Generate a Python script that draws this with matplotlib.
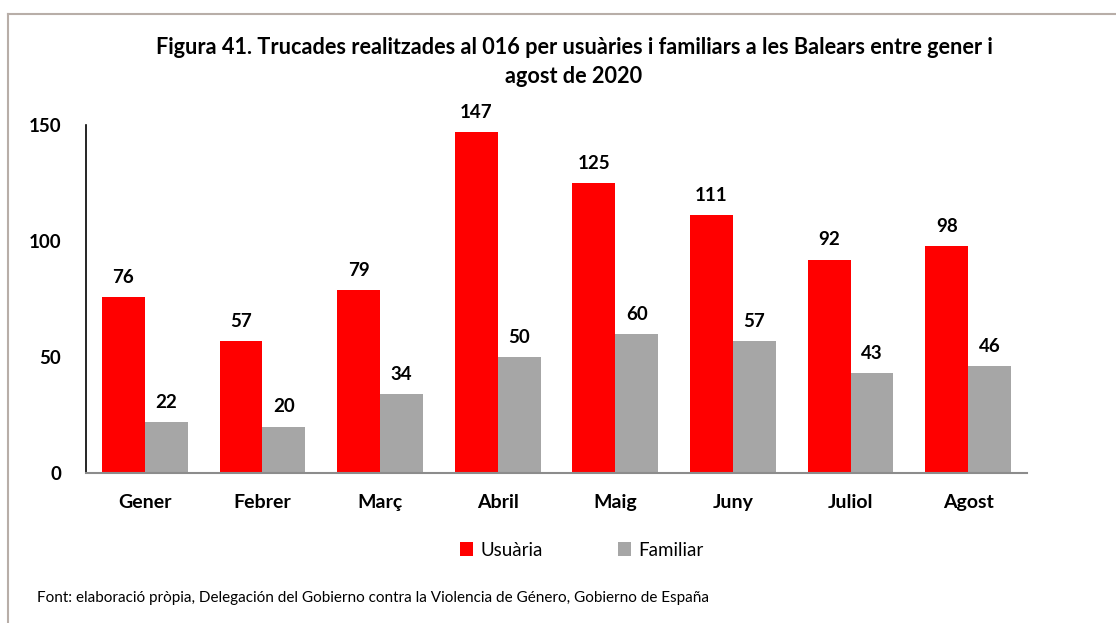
import numpy as np
import matplotlib.pyplot as plt
from matplotlib.lines import Line2D

plt.rcParams['font.family'] = ['Lato', 'DejaVu Sans']

mesos = ["Gener", "Febrer", "Març", "Abril", "Maig", "Juny", "Juliol", "Agost"]
usuaria = [76, 57, 79, 147, 125, 111, 92, 98]
familiar = [22, 20, 34, 50, 60, 57, 43, 46]

vermell = "#FF0000"
gris = "#A6A6A6"

fig = plt.figure(figsize=(11.16, 6.23), dpi=100)

# marc del gràfic (només es veuen la vora superior i l'esquerra)
fig.add_artist(Line2D([8/1116, 1.0], [1 - 14/623, 1 - 14/623], color="#B8AEA8", lw=1.5))
fig.add_artist(Line2D([8/1116, 8/1116], [0.0, 1 - 14/623], color="#B8AEA8", lw=1.5))

ax = fig.add_axes([86/1116, 1 - 473/623, 941/1116, 348/623])

x = np.arange(len(mesos))
w = 0.365
b1 = ax.bar(x - w/2, usuaria, w, color=vermell, label="Usuària")
b2 = ax.bar(x + w/2, familiar, w, color=gris, label="Familiar")

for rects, vals in ((b1, usuaria), (b2, familiar)):
    for r, v in zip(rects, vals):
        ax.annotate(str(v), (r.get_x() + r.get_width()/2, v), xytext=(0, 8),
                    textcoords="offset points", ha="center", va="bottom",
                    fontsize=13.5, fontweight="bold")

ax.set_xlim(-0.5, len(mesos) - 0.5)
ax.set_ylim(0, 150)
ax.set_yticks([0, 50, 100, 150])
ax.set_xticks(x)
ax.set_xticklabels(mesos)
ax.tick_params(axis="both", length=0)
ax.tick_params(axis="y", pad=18, labelsize=13.5)
ax.tick_params(axis="x", pad=15, labelsize=14)
for lab in ax.get_xticklabels() + ax.get_yticklabels():
    lab.set_fontweight("bold")

ax.spines["top"].set_visible(False)
ax.spines["right"].set_visible(False)
ax.spines["left"].set_color("#000000")
ax.spines["left"].set_linewidth(1.2)
ax.spines["bottom"].set_color("#8C8C8C")
ax.spines["bottom"].set_linewidth(1.5)

fig.text(574/1116, 1 - 62/623,
         "Figura 41. Trucades realitzades al 016 per usuàries i familiars a les Balears entre gener i\nagost de 2020",
         ha="center", va="center", fontsize=15.6, fontweight="bold", linespacing=1.5)

ax.legend(loc="center", bbox_to_anchor=(582/1116, 1 - 550/623), bbox_transform=fig.transFigure,
          ncol=2, frameon=False, fontsize=13.5, handlelength=0.7, handleheight=0.7,
          columnspacing=4.0, handletextpad=0.4)

fig.text(37/1116, 1 - 598/623,
         "Font: elaboració pròpia, Delegación del Gobierno contra la Violencia de Género, Gobierno de España",
         ha="left", va="center", fontsize=11)

fig.savefig("out.png", dpi=100)
